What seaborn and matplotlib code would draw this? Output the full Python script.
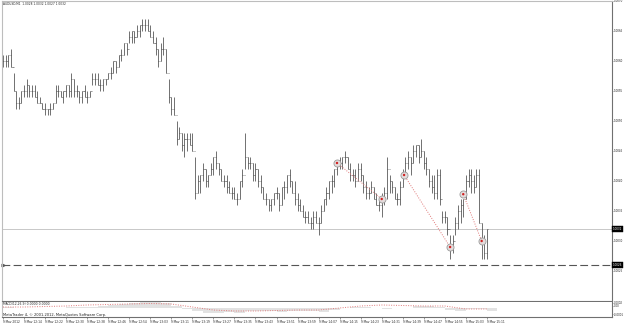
import numpy as np
import pandas as pd
import matplotlib
matplotlib.use("Agg")
import matplotlib.pyplot as plt
import matplotlib.transforms as mtransforms
import seaborn as sns

# ---------------- data ----------------
title = "AUDUSD,M1  1.0028 1.0032 1.0027 1.0032"
macd_label = "MACD(12,26,9) 0.0000 0.0000"
footer = "MetaTrader 4, \u00a9 2001-2012, MetaQuotes Software Corp."
time_labels = ["9 May 2012", "9 May 12:14", "9 May 12:22", "9 May 12:30", "9 May 12:38",
               "9 May 12:46", "9 May 12:54", "9 May 13:03", "9 May 13:11", "9 May 13:19",
               "9 May 13:27", "9 May 13:35", "9 May 13:43", "9 May 13:51", "9 May 13:59",
               "9 May 14:07", "9 May 14:15", "9 May 14:23", "9 May 14:31", "9 May 14:39",
               "9 May 14:47", "9 May 14:55", "9 May 15:03", "9 May 15:11"]

# prices given in pips above 1.0000 (price = 1.0000 + pips / 10000)
high_pips = [61, 61, 61, 62, 58, 55, 54, 55, 56, 57, 56, 56, 56, 55, 54, 53, 53, 52, 53, 53,
             56, 56, 55, 55, 56, 56, 58, 57, 56, 55, 55, 56, 55, 55, 58, 58, 58, 57, 57, 57,
             58, 59, 60, 60, 61, 62, 63, 63, 65, 65, 65, 66, 66, 67, 67, 67, 66, 65, 64, 62,
             63, 64, 62, 57, 54, 54, 50, 49, 48, 48, 48, 48, 48, 44, 41, 41, 43, 42, 41, 43,
             44, 45, 43, 42, 41, 41, 40, 39, 39, 38, 40, 42, 48, 44, 44, 43, 43, 42, 41, 39,
             38, 37, 37, 38, 39, 38, 39, 40, 41, 42, 40, 40, 38, 37, 36, 35, 35, 34, 35, 35,
             34, 36, 37, 39, 40, 41, 42, 43, 44, 44, 45, 44, 43, 42, 42, 43, 43, 41, 40, 39,
             40, 39, 38, 37, 38, 39, 44, 41, 40, 39, 38, 40, 42, 44, 45, 44, 46, 46, 46, 47,
             45, 44, 42, 41, 41, 42, 42, 35, 35, 34, 31, 31, 34, 36, 37, 37, 41, 42, 42, 41,
             42, 42, 33, 31, 32]
low_pips = [59, 59, 59, 59, 55, 52, 52, 53, 54, 54, 54, 54, 54, 53, 53, 52, 51, 51, 51, 52,
            53, 54, 54, 53, 54, 54, 54, 54, 54, 53, 53, 54, 53, 54, 56, 56, 56, 55, 55, 56,
            57, 57, 58, 58, 59, 60, 61, 61, 63, 63, 63, 64, 64, 65, 65, 65, 64, 63, 61, 59,
            60, 61, 58, 53, 51, 51, 46, 47, 45, 44, 45, 46, 45, 37, 38, 38, 40, 39, 39, 41,
            41, 42, 41, 40, 39, 38, 38, 37, 37, 36, 37, 39, 42, 42, 42, 40, 40, 39, 38, 37,
            36, 35, 35, 36, 37, 35, 36, 37, 38, 39, 38, 36, 35, 35, 34, 33, 33, 32, 32, 33,
            31, 33, 35, 36, 37, 38, 39, 41, 42, 42, 43, 42, 40, 40, 39, 40, 40, 38, 37, 37,
            38, 37, 36, 35, 34, 36, 37, 38, 38, 37, 36, 36, 39, 41, 42, 41, 43, 44, 43, 44,
            42, 41, 39, 38, 37, 37, 36, 33, 33, 31, 27, 28, 31, 32, 33, 34, 37, 39, 38, 38,
            39, 33, 27, 27, 27]
close_pips = [60, 60, 61, 59, 55, 53, 53, 55, 55, 56, 55, 55, 54, 53, 53, 52, 52, 52, 52, 53,
              55, 55, 54, 55, 56, 55, 57, 55, 55, 54, 55, 54, 54, 55, 57, 57, 56, 56, 57, 57,
              58, 58, 60, 59, 61, 61, 63, 62, 64, 65, 64, 65, 66, 66, 66, 65, 64, 63, 62, 60,
              62, 62, 58, 54, 52, 51, 47, 48, 46, 47, 47, 46, 45, 38, 40, 41, 42, 40, 41, 42,
              44, 43, 42, 40, 40, 39, 38, 38, 37, 37, 40, 41, 44, 43, 43, 41, 42, 40, 39, 37,
              37, 36, 37, 38, 38, 36, 39, 39, 41, 40, 38, 37, 36, 35, 34, 34, 33, 33, 34, 33,
              33, 35, 37, 38, 40, 40, 42, 43, 43, 44, 44, 42, 41, 41, 40, 42, 41, 39, 38, 38,
              39, 37, 36, 36, 37, 38, 42, 40, 39, 37, 37, 39, 41, 43, 44, 43, 45, 46, 44, 45,
              43, 42, 40, 39, 38, 41, 37, 34, 34, 32, 29, 30, 33, 35, 36, 37, 40, 41, 40, 39,
              41, 33, 30, 28, 32]
first_open_pips = 60

price_ticks = [1.0070, 1.0065, 1.0060, 1.0055, 1.0050, 1.0045, 1.0040, 1.0035, 1.0030, 1.0025]
bid_price = 1.0032
level_price = 1.0026

fractal_bars = [127, 144, 152.5, 170, 175, 182]
fractal_prices = [1.0043, 1.0037, 1.0041, 1.0029, 1.00378, 1.0030]
fractal_pairs = [(0, 1), (2, 3), (4, 5)]

signal_bars = list(range(0, 185, 8))
signal_vals = [0.00004, 0.00004, 0.00006, 0.00008, 0.00012, 0.00014, 0.00016, 0.00018,
               0.00016, 0.00004, -0.00008, -0.00012, -0.00012, -0.00010, -0.00008, -0.00008,
               0.00000, 0.00008, 0.00012, 0.00010, 0.00008, 0.00008, -0.00004, -0.00004]
hist_bars = list(range(0, 185, 4))
hist_vals = [0.00003, 0.00002, 0.00000, 0.00002, -0.00001, 0.00001, 0.00004, 0.00005,
             0.00005, 0.00008, 0.00012, 0.00016, 0.00020, 0.00023, 0.00024, 0.00020,
             0.00010, -0.00004, -0.00012, -0.00018, -0.00018, -0.00017, -0.00018, -0.00012,
             -0.00011, -0.00013, -0.00014, -0.00010, -0.00010, -0.00013, -0.00015, -0.00008,
             0.00002, 0.00006, 0.00005, 0.00001, -0.00002, 0.00000, 0.00002, 0.00008,
             0.00010, 0.00006, -0.00006, -0.00010, -0.00004, -0.00002, -0.00010]
macd_ticks = [0.0002, 0.0001, -0.00025]
macd_tick_labels = ["0.0002", "0.00", "-0.0001"]

# ---------------- build frames ----------------
n = len(high_pips)
bars = pd.DataFrame({
    "bar": np.arange(n),
    "high": 1.0 + np.array(high_pips) / 10000.0,
    "low": 1.0 + np.array(low_pips) / 10000.0,
    "close": 1.0 + np.array(close_pips) / 10000.0,
})
bars["open"] = bars["close"].shift(1).fillna(1.0 + first_open_pips / 10000.0)
signal_df = pd.DataFrame({"bar": signal_bars, "signal": signal_vals})
hist_df = pd.DataFrame({"bar": hist_bars, "macd": hist_vals})
fract_df = pd.DataFrame({"bar": fractal_bars, "price": fractal_prices})

# ---------------- figure ----------------
sns.set_style("white")
plt.rcParams["font.family"] = ["DejaVu Sans"]
W, H = 625, 323
fig = plt.figure(figsize=(W / 100, H / 100), dpi=100)
fig.patch.set_facecolor("white")

ax = fig.add_axes([2 / W, 1 - 301 / H, 610 / W, 300 / H])
ax2 = fig.add_axes([2 / W, 1 - 317 / H, 610 / W, 15 / H], sharex=ax)

xmin, xmax = -0.38, 231.56
ax.set_xlim(xmin, xmax)
ax.set_ylim(1.0020, 1.0070)

bar_color = "#4a4a4a"
ax.vlines(bars["bar"], bars["low"], bars["high"], color=bar_color, lw=0.55)
ax.hlines(bars["open"], bars["bar"] - 0.4, bars["bar"], color=bar_color, lw=0.45)
ax.hlines(bars["close"], bars["bar"], bars["bar"] + 0.4, color=bar_color, lw=0.45)

# bid line and level line
ax.axhline(bid_price, color="#c8c8c8", lw=0.7, zorder=0)
ax.axhline(level_price, color="#555555", lw=0.8, ls=(0, (7, 3)), zorder=1)
ax.plot([0.0], [level_price], marker=">", ms=2, color="#555555", clip_on=False)

# fractal connector lines + markers
for a, b in fractal_pairs:
    sns.lineplot(x=[fractal_bars[a], fractal_bars[b]], y=[fractal_prices[a], fractal_prices[b]],
                 ax=ax, color="#e07a7a", lw=0.7, linestyle=(0, (1, 1.5)), legend=False)
sns.scatterplot(data=fract_df, x="bar", y="price", ax=ax, s=26, color="#e4dcdc",
                edgecolor="#9a9a9a", linewidth=0.6, zorder=5, legend=False)
sns.scatterplot(data=fract_df, x="bar", y="price", ax=ax, s=3, color="#d02020",
                edgecolor="none", zorder=6, legend=False)

# axis styling main
ax.set_xlabel("")
ax.set_ylabel("")
for s in ["top", "left"]:
    ax.spines[s].set_color("#bdbdbd")
    ax.spines[s].set_linewidth(0.8)
ax.spines["right"].set_color("#707070")
ax.spines["right"].set_linewidth(0.8)
ax.spines["bottom"].set_color("#707070")
ax.spines["bottom"].set_linewidth(0.8)
ax.yaxis.tick_right()
ax.set_yticks(price_ticks)
ax.set_yticklabels([f"{v:.4f}" for v in price_ticks])
ax.tick_params(axis="y", right=True, length=1.0, width=0.5, color="#707070",
               labelsize=2.0, pad=0.5, labelcolor="#222222")
ax.tick_params(axis="x", bottom=False, labelbottom=False)

blend = mtransforms.blended_transform_factory(ax.transAxes, ax.transData)
for val in [bid_price, level_price]:
    ax.text(1.0012, val, f"{val:.4f}", transform=blend, fontsize=2.0, color="white",
            va="center", ha="left",
            bbox=dict(boxstyle="square,pad=0.2", fc="black", ec="black", lw=0.3),
            clip_on=False, zorder=10)

ax.text(0.001, 0.997, title, transform=ax.transAxes, fontsize=2.1, color="#222222",
        ha="left", va="top")

# ---------------- MACD subwindow ----------------
ax2.set_ylim(-0.00036, 0.00024)
ax2.bar(hist_df["bar"], hist_df["macd"], width=4, color="#e2e2e2", edgecolor="none",
        align="edge", zorder=1)
sns.lineplot(data=signal_df, x="bar", y="signal", ax=ax2, color="#e07a7a", lw=0.7,
             linestyle=(0, (1, 1.5)), legend=False, zorder=3)
ax2.set_xlabel("")
ax2.set_ylabel("")
ax2.spines["top"].set_visible(False)
ax2.spines["left"].set_color("#bdbdbd")
ax2.spines["left"].set_linewidth(0.8)
ax2.spines["right"].set_color("#707070")
ax2.spines["right"].set_linewidth(0.8)
ax2.spines["bottom"].set_color("#707070")
ax2.spines["bottom"].set_linewidth(0.8)
ax2.yaxis.tick_right()
ax2.set_yticks(macd_ticks)
ax2.set_yticklabels(macd_tick_labels)
ax2.tick_params(axis="y", right=True, length=1.0, width=0.5, color="#707070",
                labelsize=1.9, pad=0.5, labelcolor="#222222")
ax2.set_xticks(list(range(0, 185, 8)))
ax2.set_xticklabels(time_labels)
ax2.tick_params(axis="x", bottom=True, length=1.2, width=0.5, color="#707070",
                labelsize=2.1, pad=0.6, labelcolor="#222222")
for lab in ax2.get_xticklabels():
    lab.set_horizontalalignment("left")
ax2.set_xlim(xmin, xmax)

ax2.text(0.001, 0.97, macd_label, transform=ax2.transAxes, fontsize=2.2, color="#222222",
         ha="left", va="top")
ax2.text(0.001, 0.03, footer, transform=ax2.transAxes, fontsize=2.6, color="#222222",
         ha="left", va="bottom")

fig.savefig("out.png", dpi=100, facecolor="white")
